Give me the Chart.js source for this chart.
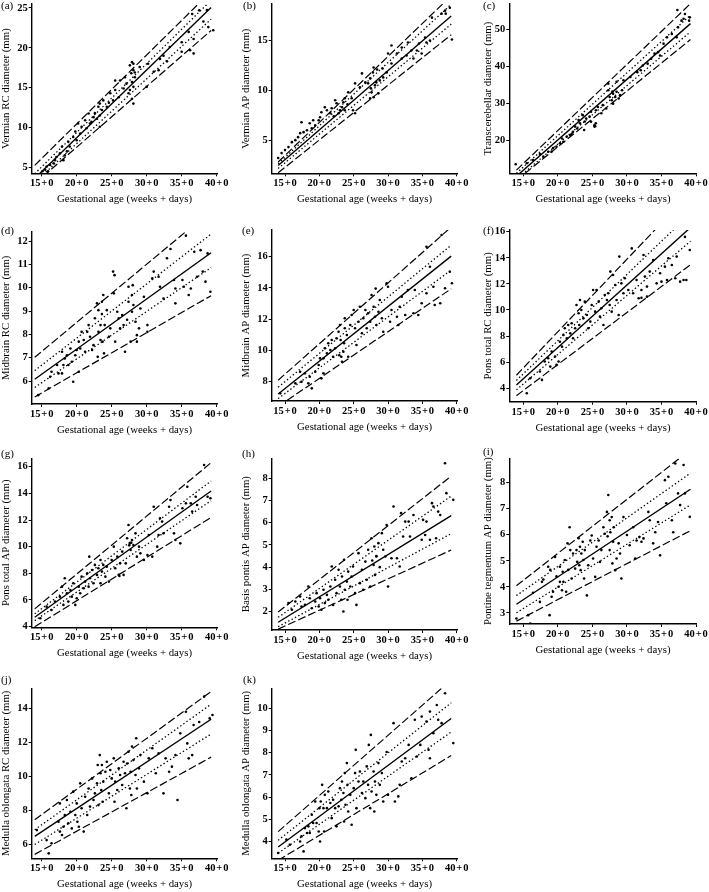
<!DOCTYPE html>
<html>
<head>
<meta charset="utf-8">
<script src="https://cdn.jsdelivr.net/npm/chart.js@4.4.0/dist/chart.umd.min.js"></script>
<style>
  html, body { margin: 0; padding: 0; background: #fff; }
  #fig { position: relative; width: 709px; height: 892px; overflow: hidden; }
  #fig canvas { position: absolute; }
</style>
</head>
<body>
<div id="fig"></div>
<script>
// gestational age axis, shared by all panels
const weekTicks = [15, 20, 25, 30, 35, 40];
const weekLabels = ['15\u200A+\u200A0', '20\u200A+\u200A0', '25\u200A+\u200A0', '30\u200A+\u200A0', '35\u200A+\u200A0', '40\u200A+\u200A0'];
const xTitle = 'Gestational age (weeks + days)';
const fitAges = [14, 39.2];

// fitted centile lines at fitAges: outer upper, inner upper, mean, inner lower, outer lower
const aFit = [[5.25, 27.08], [4.2, 25.96], [3.61, 25.05], [3.1, 23.6], [2.95, 22.18]];
const bFit = [[2.8, 19.5], [2.63, 18.64], [2.45, 17.47], [2.15, 16.65], [1.72, 15.58]];
const cFit = [[12.05, 57.0], [11.2, 53.9], [10.4, 51.6], [9.6, 49.4], [9.3, 47.3]];
const dFit = [[7.02, 13.3], [6.45, 12.3], [6.08, 11.5], [5.73, 10.86], [5.32, 9.66]];
const eFit = [[8.1, 17.9], [7.65, 16.74], [7.22, 16.04], [6.93, 15.15], [6.42, 13.95]];
const fFit = [[5.0, 19.0], [4.6, 17.4], [4.25, 16.32], [3.88, 15.27], [3.43, 13.47]];
const gFit = [[5.33, 16.3], [4.96, 14.93], [4.7, 14.18], [4.45, 13.45], [3.99, 12.19]];
const hFit = [[1.98, 8.1], [1.74, 7.2], [1.52, 6.32], [1.32, 5.51], [1.21, 4.77]];
const iFit = [[4.04, 9.27], [3.66, 8.37], [3.33, 7.75], [3.0, 7.15], [2.68, 6.16]];
const jFit = [[7.45, 14.99], [6.86, 14.24], [6.47, 13.36], [5.99, 12.49], [5.41, 11.13]];
const kFit = [[4.44, 11.28], [4.05, 10.25], [3.75, 9.54], [3.47, 8.93], [3.15, 7.87]];

// y tick values
const aTicks = [5, 10, 15, 20, 25];
const bTicks = [5, 10, 15];
const cTicks = [20, 30, 40, 50];
const dTicks = [6, 7, 8, 9, 10, 11, 12];
const eTicks = [8, 10, 12, 14, 16];
const fTicks = [4, 6, 8, 10, 12, 14, 16];
const gTicks = [4, 6, 8, 10, 12, 14, 16];
const hTicks = [2, 3, 4, 5, 6, 7, 8];
const iTicks = [3, 4, 5, 6, 7, 8];
const jTicks = [6, 8, 10, 12, 14];
const kTicks = [4, 5, 6, 7, 8, 9, 10];

// measurements [age in weeks, diameter in mm]
const aPts = [[36.5,24.25],[37.5,24.7],[38.6,24.75],[38.1,23.3],[38.8,22.6],[39.5,22.2],[36.7,21.1],[36.0,22.0],[35,20.7],[35,19.5],
  [36.2,19.7],[36.7,19.3],[32.9,18.3],[33.3,20.1],[32.4,19.0],[31.9,18.6],[31.7,17.2],[31,17],[30.2,18],[29,17.6],
  [30,15.1],[28.3,16.3],[28.1,17.2],[28.1,18],[27.9,18.2],[27.9,15.7],[28.1,15.1],[27.6,14.7],[27.4,14.3],[27.9,13.6],
  [28.1,13],[27.1,15.5],[26.9,16.3],[26.7,14.9],[26.2,15.9],[26,13.8],[25.5,14.7],[25.5,15.9],[25.2,13.4],[24.8,14.3],
  [24.3,12.6],[23.8,13.4],[23.6,12.2],[23.3,11.5],[23.3,13],[23.1,12.6],[22.9,11.1],[23.3,10.1],[22.6,11.8],[22.1,10.7],
  [21.9,10.5],[21.7,11.75],[21.4,9.9],[21.2,10.9],[20.7,10.1],[20.5,9.25],[20.2,10.5],[20,8.4],[19.8,9.5],[19.5,8.8],
  [19,7.6],[18.8,8.2],[18.6,7],[18.3,6.5],[18.1,5.9],[17.9,7.6],[17.6,6.75],[17.1,6.3],[16.9,5.9],[16.7,5.5],
  [16.2,5.3],[15.7,5.1],[15.5,4.7],[15.9,4.5],[15.1,4.5],[27.6,17.8],[27.8,16.8],[28.3,16.9],[24.6,13.1],[22.4,11.3]];
const bPts = [[38.3,18.0],[37.8,17.7],[39.0,18.3],[36.4,17.3],[38.4,17.7],[35.4,15.3],[35.6,14.8],[36.1,15],[39.3,15.1],[34.5,14.7],
  [34.2,14],[34.9,13.7],[33.4,14],[33.7,13.2],[32.9,14.8],[32.7,13.5],[32,13.2],[32,14.3],[31.3,13.7],[30.5,14.5],
  [30,13.7],[30.5,12.7],[29.8,11.8],[29.2,12.2],[29.3,11.3],[28.8,11],[28.3,10.8],[27.9,12.3],[28.1,10.5],[27.6,9.8],
  [27.4,11.2],[27.1,10.7],[27.5,10.2],[28.6,9.7],[27.9,9.3],[27.4,9.2],[26.7,10.8],[26.2,11.7],[25.9,10.3],[25.2,10.7],
  [24.9,8],[25.2,7.7],[24.7,9.2],[24.2,9.8],[23.7,9.2],[23.5,8.8],[23.3,8.3],[23.7,8],[23,8],[22.8,7.7],
  [22.5,8.7],[22.3,9],[21.8,8.2],[21.6,7.7],[21.1,8],[20.8,8.3],[20.3,7.8],[20.1,7.3],[19.9,7],[19.4,6.5],
  [19.1,7],[18.9,6.2],[18.6,6.7],[18.2,6],[17.7,5.8],[17.4,6.8],[17.2,5.7],[16.9,5.3],[16.5,5],[16,4.8],
  [15.5,4.3],[15,4],[14.5,3.7],[14,3.2],[27.8,11.8],[28.4,12.1],[24.1,8.6],[22.1,7.4]];
const cPts = [[13.9,13.65],[15.5,13.9],[16.4,14.8],[17.4,16.4],[17.9,15.7],[18.6,17],[19.3,18],[19.8,18.4],[20.3,19.3],[20.8,19.7],
  [21.3,21.1],[20.6,20.6],[21.8,21.5],[22.2,22.4],[22.5,23.8],[22.8,23.3],[23.2,24.7],[23,25.6],[23.6,26.9],[23.8,22.9],
  [24.1,26],[24.6,26.5],[24.8,27.8],[24.8,25.1],[25.3,24.2],[25.3,23.8],[25.5,28.2],[25.8,29.1],[26.3,27.4],[26.5,29.6],
  [27.0,28.7],[27.3,33.6],[27.5,31.8],[27.8,30.9],[28,32.7],[28,30],[28.3,31.8],[28.5,33.2],[28.8,31.4],[29,32.3],
  [29.3,33.6],[27.3,35.4],[28.5,35.9],[30.5,37.2],[29.5,36.3],[31.5,38.5],[32,39],[32.3,40.3],[33,40.8],[33.5,42.1],
  [34,43.5],[34.5,43.9],[34.8,43],[35.3,46.2],[35.8,47.9],[36.5,48.8],[37.2,47.9],[37.4,50.6],[37.9,52.4],[38.4,54.2],
  [38.2,52.9],[39.1,53.3],[39,52.4],[37.3,55.3],[25.5,24.7],[25.4,23.9],[22,21.8],[19.1,17.1],[23.9,25.2],[27.9,33.3]];
const dPts = [[14.5,5.4],[16,5.69],[16.2,6.19],[16.4,6.4],[17.2,6.69],[17.4,6.33],[17.9,6.33],[17.9,7.26],[18.1,6.69],[18.3,6.97],
  [18.6,7.11],[18.8,6.69],[19.1,7.4],[19.3,6.83],[19.5,5.97],[19.8,7.11],[20,7.33],[20.3,7.69],[20.3,6.4],[20.5,7.4],
  [20.7,8.11],[21,7.76],[21.2,7.26],[21.5,8.11],[21.7,8.4],[21.9,7.9],[22.2,7.33],[22.4,7.54],[22.6,8.69],[22.9,9.33],
  [23,7.04],[23.1,8.11],[23.1,9.04],[23.4,8.4],[23.4,7.76],[23.6,8.87],[23.6,9.4],[23.7,7.69],[23.8,9.69],[23.9,7.19],
  [24,8.4],[24.3,9.04],[24.6,7.9],[24.8,8.26],[25.2,10.69],[25.4,10.54],[25.3,9.76],[25.5,7.69],[25.8,8.97],[26,8.69],
  [26.2,8.26],[26.5,8.83],[26.7,8.4],[26.9,7.26],[27.2,8.63],[27.4,10.04],[27.4,9.4],[27.7,7.69],[27.9,8.97],[27.9,9.69],
  [28,10.11],[28.1,9.26],[28.4,8.54],[28.6,7.97],[28.6,7.69],[28.9,8.26],[29.1,9.11],[29.6,9.61],[30.1,8.4],[30.1,8.11],
  [30.8,10.4],[31,10.69],[31.7,10.47],[31.9,10.04],[32.4,9.54],[32.9,11.26],[33.4,11.66],[33.9,10.33],[34.1,9.97],[34.1,9.33],
  [35.1,10.33],[35.3,10.04],[35.6,12.23],[36,9.69],[36.3,9.97],[36.8,11.54],[37.2,10.47],[37.7,11.61],[38,10.69],[38.4,10.26],
  [38.7,11.47],[39.1,9.83]];
const ePts = [[14.3,7.26],[16.5,7.9],[17.2,8.64],[17.4,8],[17.9,8.54],[18.4,7.9],[18.6,8.32],[18.9,7.58],[19.4,8.64],[19.9,9.07],
  [20.1,9.5],[20.3,8.22],[20.6,8.54],[20.6,9.5],[20.8,10.14],[21.1,9.82],[21.3,10.46],[21.6,10.03],[21.8,10.67],[22,9.6],
  [22.3,10.14],[22.5,10.78],[22.8,11.2],[22.9,9.7],[23,11.63],[23.1,10.67],[23.3,9.28],[23.5,9.92],[23.6,10.46],[23.7,11.42],
  [23.7,12.06],[24,10.99],[24.2,9.6],[24.5,11.63],[24.7,12.27],[25,12.59],[25.2,11.42],[25.4,10.35],[25.7,11.84],[25.9,12.8],
  [26.2,11.1],[26.4,12.06],[26.7,12.59],[26.9,11.42],[27.1,12.38],[27.4,11.84],[27.6,13.55],[27.9,12.8],[28.1,12.16],[28.2,13.96],
  [28.3,11.63],[28.6,12.48],[28.8,13.23],[29.1,12.06],[29.3,11.2],[29.8,14.3],[30,14.08],[30.3,11.84],[30.5,12.59],[31.3,12.16],
  [31.5,11.63],[31.7,12.8],[32,13.44],[32.5,12.27],[32.9,13.87],[33.7,12.38],[33.9,13.87],[34.4,12.27],[34.9,13.02],[35.6,13.66],
  [36.1,15.36],[36.6,14.08],[36.8,12.91],[37.6,13.02],[37.8,17.39],[38.3,13.98],[39,15.04],[39.3,14.3],[35.6,16.64],[23.2,9.6]];
const fPts = [[15.5,3.62],[16,4.77],[17.7,4.64],[17.4,5.28],[18.1,6.05],[18.6,6.3],[18.9,5.66],[19.1,6.81],[19.6,6.43],[19.8,5.79],
  [20.1,6.05],[20.3,7.57],[20.6,7.19],[20.8,8.09],[21,8.6],[21.3,7.83],[21.5,8.85],[21.8,8.21],[22,8.98],[22.2,7.83],
  [22.5,8.6],[22.7,10.38],[23,9.75],[23.1,8.85],[23.2,10.77],[23.4,10],[23.7,9.36],[23.9,10.64],[24.2,9.62],[24.4,8.6],
  [24.7,9.11],[24.9,10.38],[25.1,11.53],[25.4,9.87],[25.6,11.53],[25.9,10.64],[26.1,9.49],[26.3,10.13],[26.6,8.85],[26.8,11.15],
  [27.1,10.77],[27.3,11.28],[27.5,10.38],[27.6,12.94],[27.8,9.87],[28,12.68],[28.3,11.92],[28.5,10.77],[28.8,9.62],[28.9,14.09],
  [29.2,12.04],[29.5,11.28],[29.7,12.43],[30.2,11.53],[30.7,14.72],[30.9,11.28],[31.4,12.3],[31.7,10.9],[32.1,11.53],[32.4,14.21],
  [32.6,12.56],[32.9,11.79],[33.3,12.94],[33.8,13.83],[34.3,12.04],[34.8,12.81],[35,12.17],[35.5,13.32],[35.8,12.3],[36,13.96],
  [36.5,13.45],[37,12.43],[37.2,14.09],[37.7,12.17],[38.2,12.3],[38.6,12.3],[39.1,14.6],[38.4,15.6],[32.9,11.02],[32.1,10.94]];
const gPts = [[14.8,4.63],[15.7,5.5],[16.4,5.25],[16.9,5.88],[17.6,6.25],[18.1,5.63],[17.9,7],[18.3,7.63],[18.6,6.5],[18.8,5.88],
  [19.1,6.75],[19.3,6.25],[19.5,7.25],[19.8,5.63],[20,6.13],[20.3,7],[20.5,6.5],[20.7,7.75],[21,6.88],[21.2,7.38],
  [21.5,8],[21.7,7],[21.8,9.25],[21.9,7.63],[22.2,8.25],[22.4,7.25],[22.6,8.63],[22.9,7.88],[23.1,8.38],[23.4,9],
  [23.4,7.25],[23.6,8.13],[23.8,8.63],[24.1,7.75],[24.3,8.5],[24.6,7.38],[25,9],[25.3,10],[25.5,8.38],[25.8,9.25],
  [26,7.88],[26.2,8.75],[26.5,9.63],[26.7,7.88],[27,8.75],[27.2,10.63],[27.4,11.63],[27.6,10.25],[27.7,9.75],[27.9,10.5],
  [28.1,10.13],[28.4,11],[28.6,9.25],[28.9,10],[29.1,9.5],[29.6,9],[30.1,9.38],[30.3,10.88],[30.8,9.25],[31,13],
  [31.5,10],[31.7,10.88],[31.9,12.13],[32.2,11.88],[32.4,11],[33.2,13],[33.4,13.5],[33.9,11],[34.1,10.5],[34.8,10.25],
  [35.1,12.88],[35.6,13.25],[35.8,14.5],[36.3,13.25],[36.5,12.63],[37,13.75],[37.2,13.13],[38.2,16.13],[38.7,13.75],[39.1,13.63],
  [27.5,10.1],[27.8,10.3],[26.1,7.8]];
const hPts = [[15.5,2.38],[16,2.08],[16.5,2.45],[17.2,2.68],[17.4,2.23],[17.9,2.3],[18.4,3.13],[18.6,2.6],[18.9,2.15],[19.4,2.45],
  [19.6,2.83],[19.9,2.23],[20.1,2.6],[20.3,2.08],[20.6,2.98],[20.8,2.38],[21.1,2.75],[21.3,2.53],[21.6,3.13],[21.8,4.03],
  [22,2.3],[22.3,3.43],[22.5,2.83],[22.8,3.88],[23,3.13],[23.2,2.53],[23.3,3.58],[23.5,2],[23.6,4.33],[23.7,2.98],
  [24,3.35],[24.1,2.53],[24.2,3.8],[24.5,3.13],[24.7,3.58],[24.9,4.03],[25.2,2.83],[25.4,2.3],[25.7,4.63],[25.9,3.28],
  [26.2,3.88],[26.4,2.98],[26.7,4.25],[26.9,3.43],[27.1,4.78],[27.4,3.13],[27.6,5.3],[27.9,4.1],[28,4.93],[28.1,3.65],
  [28.3,4.48],[28.6,5.08],[28.8,4],[29.1,5.53],[29.3,4.78],[29.6,4.48],[29.8,5.9],[30,3.13],[30.5,4.4],[30.8,6.73],
  [31.3,4.4],[31.7,4.03],[31.9,6.43],[32.2,5.38],[32.5,6.05],[33,6.05],[33.2,5.38],[33.7,6.35],[34.9,5.23],[35.1,6.13],
  [35.4,5.45],[35.6,6.05],[36.1,5.23],[36.4,6.88],[36.6,6.73],[37.3,6.5],[37.6,6.35],[38.3,8.68],[38.5,7.33],[39.5,7.03],
  [37,5.3],[28.3,4.5],[27.7,4.3]];
const iPts = [[14,2.78],[15.7,2.91],[16,2.59],[16.4,3.77],[17.4,3.42],[17.7,4.19],[17.9,4.28],[18.6,4.77],[18.8,2.91],[18.9,4.65],
  [19.1,3.62],[19.3,3.81],[19.6,5.15],[19.8,4.4],[20.1,4],[20.3,4.77],[20.3,4.19],[20.6,3.87],[20.7,4.58],[20.8,4.19],
  [21,5.03],[21.2,3.81],[21.4,5.67],[21.5,4.65],[21.7,6.29],[21.8,5.41],[22,4.32],[22.2,5.28],[22.5,4.7],[22.7,5.41],
  [22.8,4.96],[23,5.87],[23.1,4.83],[23.2,5.54],[23.3,4.64],[23.4,5.28],[23.6,5.73],[23.7,5.03],[23.8,4.32],[23.9,5.41],
  [24.2,3.67],[24.4,4.83],[24.7,5.78],[24.9,5.97],[25.1,5.09],[25.4,4.38],[25.6,5.54],[25.9,5.78],[26.1,4.96],[26.3,5.41],
  [26.6,6.29],[26.8,6.04],[27.1,6.88],[27.2,5.94],[27.3,7.53],[27.5,6.56],[27.5,5.41],[27.6,6.1],[27.8,6.68],[27.9,4.9],
  [28,5.73],[28.1,6.29],[28.3,4.64],[28.5,5.09],[28.8,5.67],[29,5.28],[29.2,4.32],[29.5,6.68],[30,5.99],[30.4,5.6],
  [30.9,6.29],[31.2,5.09],[31.4,5.78],[31.8,5.91],[32.1,5.73],[32.4,5.86],[33.1,6.88],[33.3,6.56],[33.8,5.67],[34.1,6.1],
  [34.5,6.49],[34.8,5.21],[35.5,8.1],[35.7,7.21],[36,8.23],[36.5,6.56],[36.7,6.1],[37.4,7.59],[37.7,7.14],[38.2,8.68],
  [38.4,7.59],[39.1,6.69],[37,8.74]];
const jPts = [[14.3,6.84],[15.7,6.25],[16,5.47],[16.4,6.06],[17.4,7.33],[17.6,6.75],[17.9,6.55],[17.6,8.41],[18.1,7.04],[18.3,7.73],
  [18.6,8.61],[18.8,7.24],[19.1,7.92],[19.3,6.94],[19.5,9.1],[19.8,7.73],[20,8.41],[20.1,7.33],[20.3,7.04],[20.5,9.59],
  [20.7,8.12],[21,6.75],[21.2,8.8],[21.5,7.73],[21.7,9.29],[21.9,8.22],[22.2,9.88],[22.4,8.61],[22.6,9],[22.9,9.59],
  [23,10.67],[23.1,8.31],[23.3,11.25],[23.4,10.18],[23.5,9.2],[23.6,10.67],[23.7,8.51],[23.8,9.69],[24.1,10.27],[24.3,10.86],
  [24.6,9],[24.8,10.37],[25,9.88],[25.3,11.06],[25.4,8.51],[25.5,9.69],[25.8,9.2],[26,10.47],[26.2,10.08],[26.5,9.49],
  [26.7,10.86],[26.9,10.18],[27.1,8.12],[27.2,10.76],[27.4,11.45],[27.6,9.29],[27.7,10.27],[27.8,8.9],[27.9,11.75],[28.1,10.96],
  [28.4,10.08],[28.5,12.24],[28.6,9.29],[28.9,10.47],[29.1,11.25],[29.6,9.69],[30.1,9],[30.3,11.06],[30.8,11.65],[31.3,10.18],
  [31.7,11.35],[32.4,9],[32.7,11.06],[33.2,10.27],[33.6,10.57],[34.1,11.25],[34.4,8.61],[34.8,12.53],[35.6,13.8],[35.8,11.94],
  [36,11.06],[36.5,11.25],[36.7,13.02],[37.5,13.2],[38.2,14.69],[39,13.41],[39.4,13.61]];
const kPts = [[14,3.48],[15.2,4.08],[15.7,3.85],[17.2,4],[17.4,4.23],[17.7,3.55],[17.9,4.6],[18.2,4.38],[18.4,4.68],[18.6,4.38],
  [18.9,5.2],[19.1,4.83],[19.4,5.8],[19.6,4.83],[19.9,4.45],[20,5.5],[20.1,4],[20.2,5.8],[20.4,6.55],[20.6,5.5],
  [20.7,4.45],[20.8,6.1],[21.1,5.5],[21.3,6.25],[21.6,5.73],[21.8,5.05],[22,5.88],[22.3,5.5],[22.5,4.68],[22.8,5.58],
  [23,6.4],[23.2,5.88],[23.3,6.7],[23.5,6.18],[23.6,4.9],[23.7,7.08],[23.8,5.65],[24,7.53],[24.1,6.55],[24.2,5.35],
  [24.5,6.1],[24.7,4.75],[25,6.4],[25.2,7.08],[25.3,8.13],[25.4,5.5],[25.7,6.7],[25.9,7.15],[26.2,6.18],[26.4,6.7],
  [26.7,5.95],[26.9,7.38],[27.1,6.55],[27.2,8.35],[27.4,5.5],[27.5,8.8],[27.6,6.25],[27.9,7.15],[28,5.35],[28.1,6.7],
  [28.3,6.1],[28.6,7.53],[28.8,6.55],[29.1,7.08],[29.3,5.8],[29.8,8.03],[30,6.1],[30.8,9.33],[31,5.8],[31.5,6.03],
  [31.7,6.55],[32,7.6],[32.5,7.75],[33,8.35],[33.4,6.85],[33.9,9.48],[34.2,7.83],[34.7,8.35],[34.9,9.63],[35.6,9.4],
  [35.9,8.13],[36.1,9.85],[36.6,8.88],[37.1,10.15],[37.3,9.48],[37.8,9.33],[38.3,10.68],[39.5,8.43],[36.1,7.75]];

// page layout per panel: canvas left/top/width, plot area left/top/right/bottom (page px), x range, y range
const panels = [
  { letter: '(a)', title: 'Vermian RC diameter (mm)', pts: aPts, fit: aFit, ticks: aTicks, box: [0, 0, 238, 31.7, 3.3, 217.4, 173.3, 13.57, 40.1, 4.25, 25.5] },
  { letter: '(b)', title: 'Vermian AP diameter (mm)', pts: bPts, fit: bFit, ticks: bTicks, box: [240, 0, 237, 271.7, 3.3, 457.4, 173.3, 13.06, 40.1, 1.67, 18.67] },
  { letter: '(c)', title: 'Transcerebellar diameter (mm)', pts: cPts, fit: cFit, ticks: cTicks, box: [482, 0, 227, 509.3, 3.3, 696.7, 173.3, 12.97, 40.1, 11.2, 56.9] },
  { letter: '(d)', title: 'Midbrain RC diameter (mm)', pts: dPts, fit: dFit, ticks: dTicks, box: [0, 222, 238, 31.7, 231.7, 217.4, 404, 13.57, 40.1, 5.02, 12.4] },
  { letter: '(e)', title: 'Midbrain AP diameter (mm)', pts: ePts, fit: eFit, ticks: eTicks, box: [240, 222, 237, 271.7, 230, 457.4, 401, 13.06, 40.1, 6.77, 17.71] },
  { letter: '(f)', title: 'Pons total RC diameter (mm)', pts: fPts, fit: fFit, ticks: fTicks, box: [482, 222, 227, 509.3, 230, 696.7, 401.7, 12.97, 40.1, 2.97, 16.13] },
  { letter: '(g)', title: 'Pons total AP diameter (mm)', pts: gPts, fit: gFit, ticks: gTicks, box: [0, 446, 238, 31.7, 458.3, 217.4, 627.3, 13.57, 40.1, 3.95, 16.63] },
  { letter: '(h)', title: 'Basis pontis AP diameter (mm)', pts: hPts, fit: hFit, ticks: hTicks, box: [240, 446, 237, 271.7, 458.3, 457.4, 630, 13.06, 40.1, 1.17, 8.9] },
  { letter: '(i)', title: 'Pontine tegmentum AP diameter (mm)', pts: iPts, fit: iFit, ticks: iTicks, box: [482, 446, 227, 509.3, 458.3, 696.7, 624, 12.97, 40.1, 2.57, 8.94] },
  { letter: '(j)', title: 'Medulla oblongata RC diameter (mm)', pts: jPts, fit: jFit, ticks: jTicks, box: [0, 672, 238, 31.7, 688.3, 217.4, 858.3, 13.57, 40.1, 5.18, 15.18] },
  { letter: '(k)', title: 'Medulla oblongata AP diameter (mm)', pts: kPts, fit: kFit, ticks: kTicks, box: [240, 672, 237, 271.7, 688.3, 457.4, 858.3, 13.06, 40.1, 3.24, 10.9] }
];

// letter page positions (x, y of text middle)
const letterPos = [[1, 6], [243, 6], [483, 6], [1, 231], [242, 231], [483, 231], [1, 454], [242, 454], [483, 452], [1, 680], [243, 680]];

Chart.defaults.font.family = '"Liberation Serif", "Times New Roman", serif';
Chart.defaults.color = '#000';

const panelLetter = {
  id: 'panelLetter',
  afterDraw(chart, args, opts) {
    const ctx = chart.ctx;
    ctx.save();
    ctx.font = '11px "Liberation Serif"';
    ctx.fillStyle = '#000';
    ctx.textBaseline = 'middle';
    ctx.fillText(opts.text, opts.x, opts.y);
    ctx.restore();
  }
};

const lineStyles = [
  { dash: [8, 3], w: 1.2 },
  { dash: [1.4, 2.4], w: 1.3 },
  { dash: [], w: 1.4 },
  { dash: [1.4, 2.4], w: 1.3 },
  { dash: [8, 3], w: 1.2 }
];

const fig = document.getElementById('fig');

panels.forEach((p, n) => {
  const [L, T, W, pl, pt, pr, pb, x0, x1, y0, y1] = p.box;
  const xBand = 33;
  const H = Math.round(pb + xBand - T);
  const cv = document.createElement('canvas');
  cv.width = W;
  cv.height = H;
  cv.style.left = L + 'px';
  cv.style.top = T + 'px';
  fig.appendChild(cv);

  const lines = p.fit.map((ends, i) => ({
    data: fitAges.map((a, j) => ({ x: a, y: ends[j] })),
    showLine: true,
    borderColor: '#000',
    borderWidth: lineStyles[i].w,
    borderDash: lineStyles[i].dash,
    pointRadius: 0,
    fill: false
  }));

  new Chart(cv, {
    type: 'scatter',
    data: {
      datasets: [{
        data: p.pts.map(([x, y]) => ({ x, y })),
        pointRadius: 1.3,
        backgroundColor: '#000',
        borderWidth: 0
      }, ...lines]
    },
    options: {
      responsive: false,
      animation: false,
      layout: { padding: { left: 0, top: pt - T, right: L + W - pr, bottom: 0 } },
      plugins: {
        legend: { display: false },
        tooltip: { enabled: false },
        panelLetter: { text: p.letter, x: letterPos[n][0] - L, y: letterPos[n][1] - T }
      },
      scales: {
        x: {
          type: 'linear',
          min: x0,
          max: x1,
          afterBuildTicks: ax => { ax.ticks = weekTicks.map(v => ({ value: v })); },
          afterFit: s => { s.height = H - (pb - T); s.paddingLeft = 0; s.paddingRight = 0; },
          ticks: {
            callback: v => weekLabels[weekTicks.indexOf(v)],
            font: { size: 10.5, weight: 'bold' },
            padding: 1,
            maxRotation: 0,
            autoSkip: false
          },
          grid: { drawOnChartArea: false, color: '#000', tickLength: 3, lineWidth: 1 },
          border: { color: '#000', width: 1.4 },
          title: { display: true, text: xTitle, font: { size: 10.8 }, padding: 0 }
        },
        y: {
          type: 'linear',
          min: y0,
          max: y1,
          afterBuildTicks: ax => { ax.ticks = p.ticks.map(v => ({ value: v })); },
          afterFit: s => { s.width = pl - L; s.paddingTop = 0; s.paddingBottom = 0; },
          ticks: {
            font: { size: 10.5, weight: 'bold' },
            padding: 1,
            autoSkip: false
          },
          grid: { drawOnChartArea: false, color: '#000', tickLength: 3, lineWidth: 1 },
          border: { color: '#000', width: 1.4 },
          title: { display: true, text: p.title, font: { size: 10.8 }, padding: 0 }
        }
      }
    },
    plugins: [panelLetter]
  });
});
</script>
</body>
</html>
